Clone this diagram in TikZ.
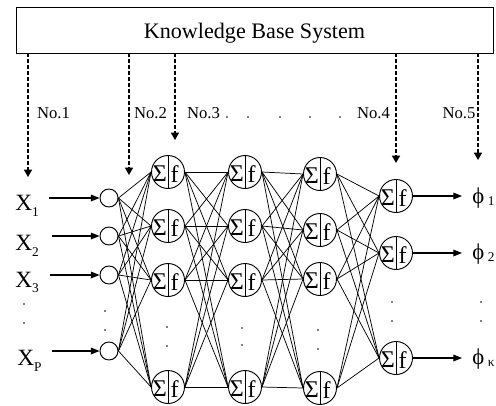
\documentclass[tikz,border=0pt]{standalone}
\usepackage{fontspec}
\setmainfont{Liberation Serif}
\usetikzlibrary{arrows.meta,calc}
\begin{document}
\begin{tikzpicture}[x=0.75pt,y=-0.75pt,
  sigf/.style={font=\fontsize{18}{18}\selectfont,inner sep=0pt},
  neuron/.style={circle,draw,line width=0.7pt,minimum size=24.75pt,inner sep=0pt,
    path picture={
      \draw[line width=0.6pt] (path picture bounding box.north) -- (path picture bounding box.south);
      \node[sigf] at ([xshift=-6.2pt,yshift=-1.3pt]path picture bounding box.center) {Σ};
      \node[sigf] at ([xshift=4.9pt,yshift=-1.3pt]path picture bounding box.center) {f};
    }},
  inp/.style={circle,draw,line width=0.7pt,minimum size=13.5pt,inner sep=0pt},
  syn/.style={line width=0.55pt},
  kbarrow/.style={line width=1.1pt,dash pattern=on 3pt off 1.5pt,-{Triangle[length=5.5pt,width=6pt]}},
  inarrow/.style={line width=0.9pt,-{Triangle[length=6.5pt,width=5pt]}},
  nolab/.style={font=\fontsize{12.5}{12.5}\selectfont,inner sep=0pt},
  xlab/.style={font=\fontsize{17.5}{17.5}\selectfont,inner sep=0pt,anchor=base west},
  philab/.style={font=\fontsize{17}{17}\selectfont,inner sep=0pt,anchor=base west},
  dot/.style={fill=black}
]
\useasboundingbox (0,0) rectangle (496,405);

% knowledge base box
\node (kb) [draw,line width=0.7pt,minimum width=357.75pt,minimum height=34.5pt,inner sep=0pt] at (254.5,30) {};
\node (kbt) [font=\fontsize{16.6}{16.6}\selectfont,inner sep=0pt] at (254.5,33.5) {Knowledge Base System};

% labels
\node (n1) [nolab] at (53.5,113) {No.1};
\node (n2) [nolab] at (150.5,113) {No.2};
\node (n3) [nolab] at (203.5,113) {No.3};
\node (n4) [nolab] at (373.5,113) {No.4};
\node (n5) [nolab] at (459,113) {No.5};
\foreach \x in {227,248,280,310,340} \fill[dot] (\x,117) circle[radius=0.65pt];

% dashed arrows from knowledge base
\coordinate (t1) at (28,177);
\coordinate (t2) at (129,175);
\coordinate (t3) at (175,140);
\coordinate (t4) at (396,163);
\coordinate (t5) at (478,160);
\foreach \k in {1,...,5} \draw[kbarrow] (kb.south -| t\k) -- (t\k);

% input nodes
\node (i1) [inp] at (109,198) {};
\node (i2) [inp] at (109,236) {};
\node (i3) [inp] at (109,275) {};
\node (i4) [inp] at (109,351) {};

% hidden layers
\node (a1) [neuron] at (168,172) {};
\node (a2) [neuron] at (168,226) {};
\node (a3) [neuron] at (168,280) {};
\node (a4) [neuron] at (168,387) {};
\node (b1) [neuron] at (245,172) {};
\node (b2) [neuron] at (245,226) {};
\node (b3) [neuron] at (245,280) {};
\node (b4) [neuron] at (245,387) {};
\node (c1) [neuron] at (320,174) {};
\node (c2) [neuron] at (320,230) {};
\node (c3) [neuron] at (320,279) {};
\node (c4) [neuron] at (320,388) {};
% output layer
\node (o1) [neuron] at (396,196) {};
\node (o2) [neuron] at (396,253) {};
\node (o3) [neuron] at (396,358) {};

% connections
\foreach \p in {1,...,4} \foreach \q in {1,...,4} {
  \draw[syn] (i\p.east) -- (a\q.west);
  \draw[syn] (a\p.east) -- (b\q.west);
  \draw[syn] (b\p.east) -- (c\q.west);
}
\foreach \p in {1,...,4} \foreach \q in {1,...,3} \draw[syn] (c\p.east) -- (o\q.west);

% input labels and arrows
\node (x1) [xlab] at (15,210) {X\raisebox{-5pt}{\fontsize{10}{10}\selectfont 1}};
\node (x2) [xlab] at (15,250) {X\raisebox{-5pt}{\fontsize{10}{10}\selectfont 2}};
\node (x3) [xlab] at (15,287) {X\raisebox{-4pt}{\fontsize{10}{10}\selectfont 3}};
\node (x4) [xlab] at (17,365) {X\raisebox{-5pt}{\fontsize{10}{10}\selectfont P}};
\coordinate (s1) at (49,198);
\coordinate (s2) at (52,236);
\coordinate (s3) at (50,275);
\coordinate (s4) at (52,351);
\foreach \k in {1,...,4} \draw[inarrow] (s\k) -- (i\k.west);

% outputs
\coordinate (e1) at (462,196);
\coordinate (e2) at (462,253);
\coordinate (e3) at (462,358);
\foreach \k in {1,...,3} \draw[inarrow] (o\k.east) -- (e\k);
\node (f1) [philab] at (472,203) {ϕ\,\raisebox{-2pt}{\fontsize{10}{10}\selectfont 1}};
\node (f2) [philab] at (472,259) {ϕ\,\raisebox{-2pt}{\fontsize{10}{10}\selectfont 2}};
\node (f3) [philab] at (472,364) {ϕ\,\raisebox{-2pt}{\fontsize{10}{10}\selectfont κ}};

% vertical ellipsis dots
\foreach \x/\ya/\yb in {24/304/323, 105/311/330, 167/327/346, 242/328/345, 318/330/349, 392/302/321, 481/302/321} {
  \fill[dot] (\x,\ya) circle[radius=0.65pt];
  \fill[dot] (\x,\yb) circle[radius=0.65pt];
}
\end{tikzpicture}
\end{document}
